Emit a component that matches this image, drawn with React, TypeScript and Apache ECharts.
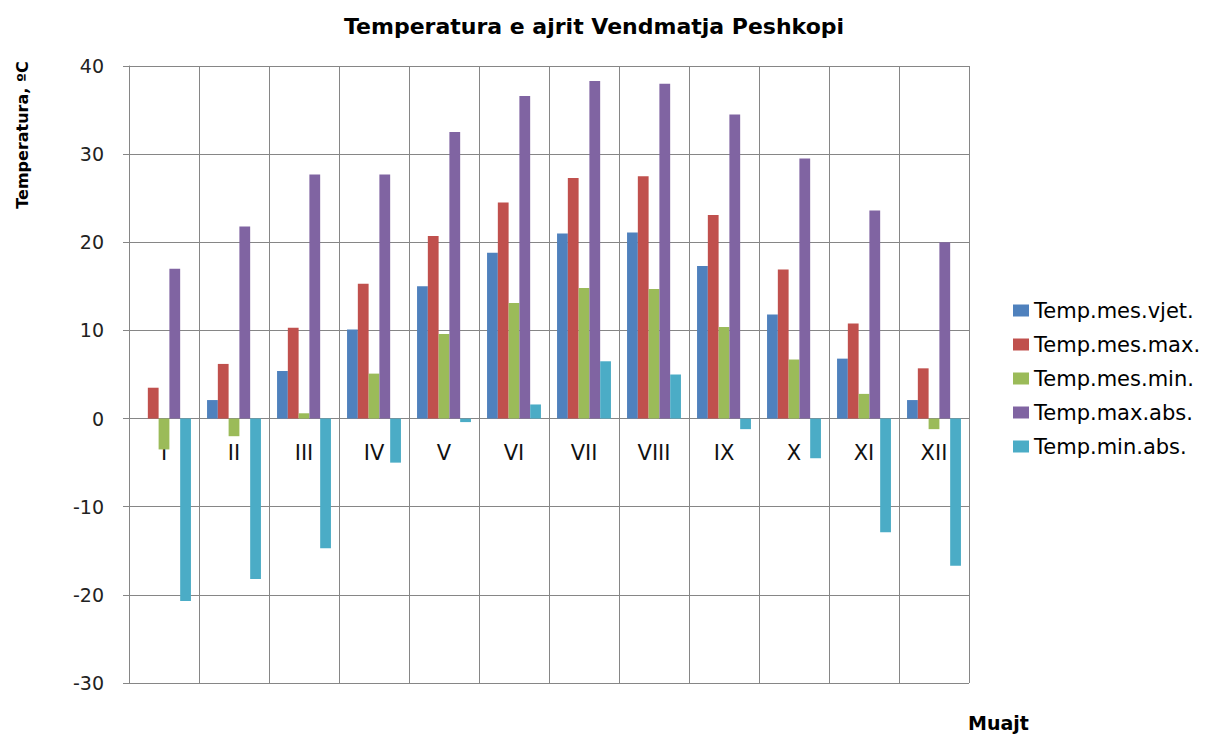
import React, { useEffect, useRef } from "react";
import * as echarts from "echarts";

const months = ["I", "II", "III", "IV", "V", "VI", "VII", "VIII", "IX", "X", "XI", "XII"];
const seriesNames = ["Temp.mes.vjet.", "Temp.mes.max.", "Temp.mes.min.", "Temp.max.abs.", "Temp.min.abs."];
const tempMesVjet = [0, 2.1, 5.4, 10.1, 15.0, 18.8, 21.0, 21.1, 17.3, 11.8, 6.8, 2.1];
const tempMesMax = [3.5, 6.2, 10.3, 15.3, 20.7, 24.5, 27.3, 27.5, 23.1, 16.9, 10.8, 5.7];
const tempMesMin = [-3.5, -2.0, 0.6, 5.1, 9.6, 13.1, 14.8, 14.7, 10.4, 6.7, 2.8, -1.2];
const tempMaxAbs = [17.0, 21.8, 27.7, 27.7, 32.5, 36.6, 38.3, 38.0, 34.5, 29.5, 23.6, 20.0];
const tempMinAbs = [-20.7, -18.2, -14.7, -5.0, -0.4, 1.6, 6.5, 5.0, -1.2, -4.5, -12.9, -16.7];
const colors = ["#4F81BD", "#C0504D", "#9BBB59", "#8064A2", "#4BACC6"];
const yMin = -30;
const yMax = 40;

const FONT = "'DejaVu Sans', sans-serif";
const GRID_TOP = 66;
const GRID_BOTTOM = 53;
const H = 736;

export default function App() {
  const ref = useRef<HTMLDivElement>(null);
  useEffect(() => {
    if (!ref.current) return;
    const chart = echarts.init(ref.current, undefined, { renderer: "svg" });
    const values = [tempMesVjet, tempMesMax, tempMesMin, tempMaxAbs, tempMinAbs];
    const plotH = H - GRID_TOP - GRID_BOTTOM;
    const zeroFromBottom = (0 - yMin) / (yMax - yMin) * plotH;
    chart.setOption({
      animation: false,
      backgroundColor: "#ffffff",
      color: colors,
      title: {
        text: "Temperatura e ajrit Vendmatja Peshkopi",
        left: 589,
        textAlign: "center",
        top: 10,
        textStyle: { fontFamily: FONT, fontSize: 22, fontWeight: "bold", color: "#000" },
      },
      legend: {
        orient: "vertical",
        left: 1013,
        top: 300,
        padding: 0,
        itemWidth: 16,
        itemHeight: 12,
        itemGap: 13,
        icon: "rect",
        textStyle: { fontFamily: FONT, fontSize: 21, color: "#000" },
        data: seriesNames,
      },
      graphic: [
        {
          type: "text",
          x: 22,
          y: 135,
          rotation: Math.PI / 2,
          style: {
            text: "Temperatura, ºC",
            fontFamily: FONT,
            fontSize: 16,
            fontWeight: "bold",
            fill: "#000",
            align: "center",
            verticalAlign: "middle",
          },
        },
        {
          type: "text",
          x: 968,
          y: 713,
          style: {
            text: "Muajt",
            fontFamily: FONT,
            fontSize: 19,
            fontWeight: "bold",
            fill: "#000",
            align: "left",
            verticalAlign: "top",
          },
        },
      ],
      grid: { left: 129, right: 238, top: GRID_TOP, bottom: GRID_BOTTOM, outerBoundsMode: "none", containLabel: false },
      xAxis: {
        type: "category",
        data: months,
        position: "bottom",
        offset: -zeroFromBottom,
        axisLine: { show: true, onZero: false, lineStyle: { color: "#868686", width: 1 } },
        axisTick: { show: false },
        axisLabel: { fontFamily: FONT, fontSize: 21, color: "#111", margin: 24, interval: 0 },
        splitLine: { show: true, interval: 0, lineStyle: { color: "#868686", width: 1 } },
      },
      yAxis: {
        type: "value",
        min: yMin,
        max: yMax,
        interval: 10,
        axisLine: { show: true, lineStyle: { color: "#868686" } },
        axisTick: { show: true, length: 6, lineStyle: { color: "#868686" } },
        axisLabel: { fontFamily: FONT, fontSize: 19, color: "#222", margin: 25 },
        splitLine: { show: true, lineStyle: { color: "#868686", width: 1 } },
      },
      series: seriesNames.map((n, i) => ({
        name: n,
        type: "bar",
        data: values[i],
        barGap: "0%",
        barCategoryGap: "23%",
        itemStyle: { color: colors[i] },
      })),
    });
    return () => chart.dispose();
  }, []);
  return <div ref={ref} style={{ position: "fixed", left: 0, top: 0, width: 1207, height: 736 }} />;
}
